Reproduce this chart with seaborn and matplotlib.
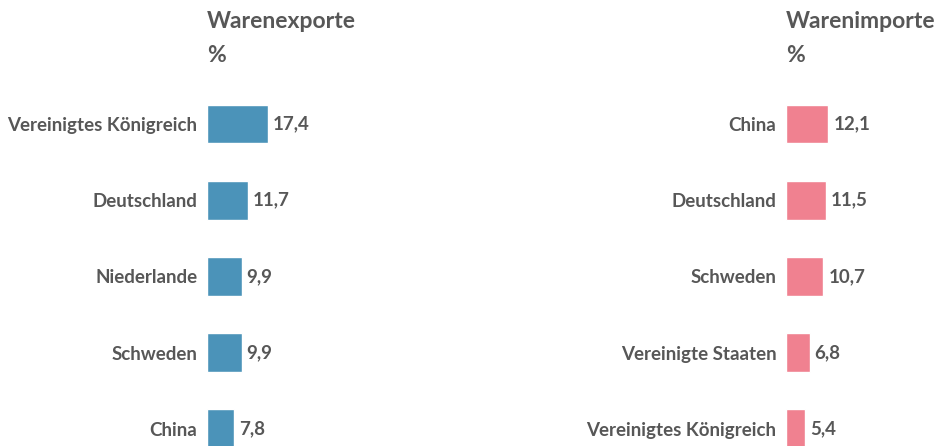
import matplotlib
matplotlib.use("Agg")
import matplotlib.pyplot as plt
import seaborn as sns
import pandas as pd

# Daten
export_countries = ["Vereinigtes Königreich", "Deutschland", "Niederlande", "Schweden", "China"]
export_values = [17.4, 11.7, 9.9, 9.9, 7.8]
import_countries = ["China", "Deutschland", "Schweden", "Vereinigte Staaten", "Vereinigtes Königreich"]
import_values = [12.1, 11.5, 10.7, 6.8, 5.4]

sns.set_theme(style="white")
plt.rcParams["font.family"] = ["Lato", "DejaVu Sans"]

TEXT = "#575757"
BLUE = "#4b93b9"
PINK = "#f08190"

W, H = 937, 446
fig = plt.figure(figsize=(W / 100, H / 100), dpi=100)

px_per_unit = 3.5
row_step = 76.2
row0 = 124


def panel(x0, x1, countries, values, color, title):
    ax = fig.add_axes([x0 / W, 0, (x1 - x0) / W, 1])
    df = pd.DataFrame({"land": countries, "wert": values})
    sns.barplot(data=df, x="wert", y="land", color=color, saturation=1,
                width=0.51, ax=ax)
    ax.set_xlim(0, (x1 - x0) / px_per_unit)
    ax.set_ylim((H - row0) / row_step, -row0 / row_step)
    for i, v in enumerate(values):
        ax.text(v + 1.4, i, f"{v:.1f}".replace(".", ","), va="center", ha="left",
                fontsize=13.5, fontweight="bold", color=TEXT)
    ax.set_xlabel("")
    ax.set_ylabel("")
    ax.set_xticks([])
    ax.tick_params(axis="y", length=0, pad=7, labelsize=13.5, labelcolor=TEXT)
    for lab in ax.get_yticklabels():
        lab.set_fontweight("bold")
    sns.despine(ax=ax, left=True, bottom=True)
    ax.patch.set_alpha(0)
    fig.text(x0 / W, 1 - 11 / H, title + "\n%", ha="left", va="top",
             fontsize=16.5, fontweight="bold", color=TEXT, linespacing=1.75)
    return ax


panel(207, 560, export_countries, export_values, BLUE, "Warenexporte")
panel(786, 937, import_countries, import_values, PINK, "Warenimporte")

fig.savefig("out.png", dpi=100)
